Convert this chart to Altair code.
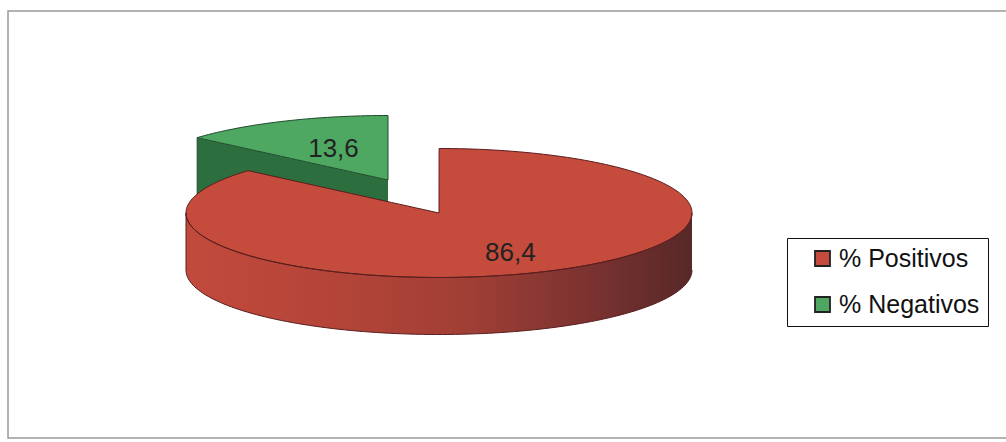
import numpy as np
import pandas as pd
import altair as alt

# ---------------- data ----------------
categories = ["% Positivos", "% Negativos"]
values = [86.4, 13.6]
labels = ["86,4", "13,6"]
colors = ["#C54B3C", "#4FA862"]

# ---------------- layout / style constants ----------------
W, H = 1006, 442
CX, CY = 439.0, 213.0        # centre of the pie top face
A, B = 253.0, 64.5           # ellipse semi-axes (tilted pie)
DEPTH = 57.0                 # thickness of the pie
EXPLODE = [(0.0, 0.0), (-51.0, -33.0)]
LABEL_R = [0.68, 0.52]
SIDE_GREEN = "#2D6E3E"
EDGE_RED = "#5A1E1E"
EDGE_GREEN = "#1F4A2A"

# slice boundary angles (clockwise from 12 o'clock)
bounds = 2 * np.pi * np.cumsum([0.0] + values) / sum(values)


def ell(theta, cx, cy):
    return cx + A * np.sin(theta), cy - B * np.cos(theta)


def lower_ell(x, cx, cy):
    u = np.clip((x - cx) / A, -1, 1)
    return cy + B * np.sqrt(1 - u ** 2)


# ---------- red slice (first) ----------
rdx, rdy = EXPLODE[0]
rcx, rcy = CX + rdx, CY + rdy
t_left = np.linspace(1.5 * np.pi, bounds[1], 30)
xl, yl = ell(t_left, rcx, rcy)
xs, ys = xl[-1], yl[-1]
xline = np.linspace(xs, rcx, 25)[1:]
yline = ys + (xline - xs) / (rcx - xs) * (rcy - ys)
t_right = np.linspace(0.0004, 0.5 * np.pi, 60)
xr, yr = ell(t_right, rcx, rcy)
rx = np.concatenate([xl, xline, xr])
ry_up = np.concatenate([yl, yline, yr])
ry_lo = lower_ell(rx, rcx, rcy)
red_top = pd.DataFrame({"x": rx, "y": ry_up, "y2": ry_lo, "cat": categories[0]})

t_rim = np.linspace(0.5 * np.pi, 1.5 * np.pi, 120)
rmx, rmy = ell(t_rim, rcx, rcy)
red_rim = pd.DataFrame({"x": rmx, "y": rmy, "y2": rmy + DEPTH})

red_top_outline = pd.DataFrame({
    "i": np.arange(2 * len(rx) + 1),
    "x": np.concatenate([rx, rx[::-1], rx[:1]]),
    "y": np.concatenate([ry_up, ry_lo[::-1], ry_up[:1]]),
})
red_rim_outline = pd.DataFrame({
    "i": np.arange(2 * len(rmx)),
    "x": np.concatenate([rmx, rmx[::-1]]),
    "y": np.concatenate([rmy, (rmy + DEPTH)[::-1]]),
})

# ---------- green slice (second, exploded) ----------
gdx, gdy = EXPLODE[1]
gcx, gcy = CX + gdx, CY + gdy
t_g = np.linspace(bounds[1], bounds[2], 40)
gx, gy_up = ell(t_g, gcx, gcy)
gxs, gys = gx[0], gy_up[0]
gy_lo = gys + (gx - gxs) / (gcx - gxs) * (gcy - gys)
green_top = pd.DataFrame({"x": gx, "y": gy_up, "y2": gy_lo, "cat": categories[1]})
green_side = pd.DataFrame({"x": gx, "y": gy_lo, "y2": gy_lo + DEPTH})
green_outline = pd.DataFrame({
    "i": np.arange(2 * len(gx) + 1),
    "x": np.concatenate([gx, gx[::-1], gx[:1]]),
    "y": np.concatenate([gy_up, gy_lo[::-1], gy_up[:1]]),
})
green_side_outline = pd.DataFrame({
    "i": np.arange(3),
    "x": [gxs, gxs, gcx],
    "y": [gys, gys + DEPTH, gcy + DEPTH],
})

# ---------- labels ----------
lab_rows = []
for k in range(len(values)):
    mid = 0.5 * (bounds[k] + bounds[k + 1])
    cx_k, cy_k = CX + EXPLODE[k][0], CY + EXPLODE[k][1]
    lab_rows.append({
        "x": cx_k + LABEL_R[k] * A * np.sin(mid),
        "y": cy_k - LABEL_R[k] * B * np.cos(mid),
        "text": labels[k],
    })
lab_df = pd.DataFrame(lab_rows)

# ---------------- encodings ----------------
X = alt.X("x:Q", scale=alt.Scale(domain=[0, W], nice=False, zero=False), axis=None)
Y = alt.Y("y:Q", scale=alt.Scale(domain=[0, H], nice=False, zero=False, reverse=True), axis=None)
ORD = alt.Order("i:Q")

color_scale = alt.Scale(domain=categories, range=colors)
legend = alt.Legend(
    title=None, orient="none", legendX=787, legendY=238, direction="vertical",
    fillColor="white", padding=8,
    symbolType="square", symbolSize=225, symbolStrokeColor="#222222",
    symbolStrokeWidth=1.8, symbolOffset=15, labelOffset=4,
    labelFont="Liberation Sans", labelFontSize=25, labelColor="#111111",
    rowPadding=20, labelLimit=400,
)
COLOR = alt.Color("cat:N", scale=color_scale, legend=legend, sort=categories)

frame = alt.Chart(pd.DataFrame({"a": [0]})).mark_rect(
    fill=None, stroke="#9a9a9a", strokeWidth=1.5
).encode(x=alt.value(8), x2=alt.value(1012), y=alt.value(11), y2=alt.value(438))

g_side = alt.Chart(green_side).mark_area(color=SIDE_GREEN, opacity=1).encode(
    x=X, y=Y, y2="y2:Q")
g_top = alt.Chart(green_top).mark_area(opacity=1).encode(
    x=X, y=Y, y2="y2:Q", color=COLOR)
g_line1 = alt.Chart(green_outline).mark_line(color=EDGE_GREEN, strokeWidth=1).encode(
    x=X, y=Y, order=ORD)
g_line2 = alt.Chart(green_side_outline).mark_line(color=EDGE_GREEN, strokeWidth=1).encode(
    x=X, y=Y, order=ORD)

rim_grad = alt.Gradient(
    gradient="linear",
    stops=[
        alt.GradientStop(color="#C14A3C", offset=0.0),
        alt.GradientStop(color="#B44438", offset=0.3),
        alt.GradientStop(color="#A13F35", offset=0.55),
        alt.GradientStop(color="#7A3230", offset=0.8),
        alt.GradientStop(color="#572828", offset=1.0),
    ],
    x1=0, x2=1, y1=0, y2=0,
)
r_rim = alt.Chart(red_rim).mark_area(color=rim_grad, opacity=1).encode(
    x=X, y=Y, y2="y2:Q")
r_top = alt.Chart(red_top).mark_area(opacity=1).encode(
    x=X, y=Y, y2="y2:Q", color=COLOR)
r_line1 = alt.Chart(red_rim_outline).mark_line(color=EDGE_RED, strokeWidth=1).encode(
    x=X, y=Y, order=ORD)
r_line2 = alt.Chart(red_top_outline).mark_line(color=EDGE_RED, strokeWidth=1).encode(
    x=X, y=Y, order=ORD)

texts = alt.Chart(lab_df).mark_text(
    font="Liberation Sans", fontSize=26, color="#222222", align="center", baseline="middle"
).encode(x=X, y=Y, text="text:N")

chart = alt.layer(
    frame, g_side, g_top, g_line2, g_line1, r_rim, r_top, r_line1, r_line2, texts
).properties(
    width=W, height=H, background="white", padding=0,
    autosize=alt.AutoSizeParams(type="none"),
).configure_view(stroke=None).configure_legend(
    strokeColor="#111111", strokeWidth=1
)

chart.save("out.html", embed_options={"renderer": "svg", "actions": False})
